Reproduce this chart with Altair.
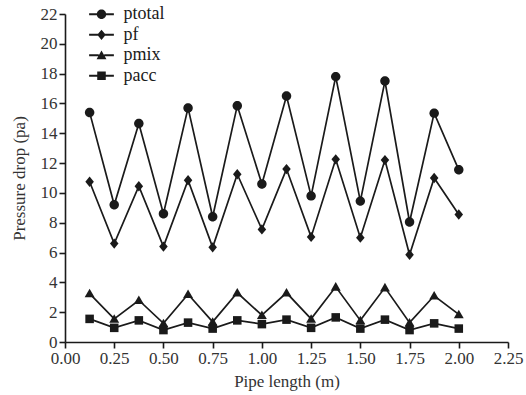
import altair as alt
import pandas as pd

x_vals = [0.125, 0.25, 0.375, 0.5, 0.625, 0.75, 0.875, 1.0,
          1.125, 1.25, 1.375, 1.5, 1.625, 1.75, 1.875, 2.0]
ptotal = [15.4, 9.2, 14.65, 8.6, 15.7, 8.4, 15.85, 10.6,
          16.5, 9.8, 17.8, 9.45, 17.5, 8.05, 15.35, 11.55]
pf = [10.75, 6.6, 10.45, 6.4, 10.85, 6.35, 11.25, 7.55,
      11.6, 7.05, 12.25, 7.0, 12.2, 5.85, 11.0, 8.55]
pmix = [3.25, 1.55, 2.8, 1.25, 3.2, 1.35, 3.3, 1.8,
        3.3, 1.55, 3.7, 1.45, 3.65, 1.3, 3.1, 1.85]
pacc = [1.55, 0.95, 1.45, 0.8, 1.3, 0.9, 1.45, 1.2,
        1.5, 0.95, 1.65, 0.9, 1.5, 0.8, 1.25, 0.9]
series = ["ptotal", "pf", "pmix", "pacc"]
x_ticks = [0, 0.25, 0.5, 0.75, 1.0, 1.25, 1.5, 1.75, 2.0, 2.25]
y_ticks = [0, 2, 4, 6, 8, 10, 12, 14, 16, 18, 20, 22]

rows = []
for name, vals in zip(series, [ptotal, pf, pmix, pacc]):
    for xv, yv in zip(x_vals, vals):
        rows.append({"x": xv, "y": yv, "series": name})
df = pd.DataFrame(rows)

INK = "#1a1a1a"
TXT = "#333333"
FONT = "Liberation Serif"

circle = "M1.05,0A1.05,1.05 0 1,1 -1.05,0A1.05,1.05 0 1,1 1.05,0Z"
diamond = "M0,-1.15L0.95,0L0,1.15L-0.95,0Z"
triangle = "M0,-1.05L1.1,0.85L-1.1,0.85Z"
square = "M-0.95,-0.95H0.95V0.95H-0.95Z"
shapes = [circle, diamond, triangle, square]
seg = "M-2.75,-0.22H-0.6V0.22H-2.75Z M0.6,-0.22H2.75V0.22H0.6Z "
legend_shapes = [seg + s for s in shapes]

xenc = alt.X("x:Q", scale=alt.Scale(domain=[0, 2.25], nice=False, zero=False),
             axis=alt.Axis(values=x_ticks, format=".2f", title="Pipe length (m)",
                           labelFlush=False, labelOverlap=False))
yenc = alt.Y("y:Q", scale=alt.Scale(domain=[0, 22], nice=False),
             axis=alt.Axis(values=y_ticks, title="Pressure drop (pa)", labelOverlap=False))

lines = alt.Chart(df).mark_line(color=INK, strokeWidth=1.7).encode(
    x=xenc, y=yenc, detail="series:N")

points = alt.Chart(df).mark_point(filled=True, opacity=1, color=INK, size=81).encode(
    x=xenc, y=yenc,
    shape=alt.Shape("series:N", scale=alt.Scale(domain=series, range=shapes), legend=None))

legend_layer = alt.Chart(df).transform_filter("datum.x > 100").mark_point(
    filled=True, opacity=1, color=INK, size=81).encode(
    x=xenc, y=yenc,
    shape=alt.Shape("series:N", scale=alt.Scale(domain=series, range=legend_shapes),
                    legend=alt.Legend(title=None, orient="none", legendX=27.5, legendY=-8.7,
                                      padding=0, labelOffset=13, rowPadding=2.5,
                                      symbolSize=81, labelFont=FONT, labelFontSize=18,
                                      labelColor=INK, symbolFillColor=INK,
                                      symbolStrokeWidth=0)))

chart = alt.layer(lines, points, legend_layer).resolve_scale(shape="independent").properties(
    width=443, height=328,
    autosize=alt.AutoSizeParams(type="none"),
    padding={"left": 65, "top": 14, "right": 18, "bottom": 53},
    background="white",
).configure_view(stroke=None).configure_axis(
    grid=False, domainColor=INK, tickColor=INK, domainWidth=1.6, tickWidth=1.6,
    tickSize=6, labelFont=FONT, labelFontSize=17, labelColor=TXT,
    titleFont=FONT, titleFontSize=17, titleFontWeight="normal", titleColor=TXT,
    labelPadding=2,
).configure_axisY(titlePadding=12).configure_axisX(titlePadding=7)

chart.save("out.html", embed_options={"renderer": "svg", "actions": False})
